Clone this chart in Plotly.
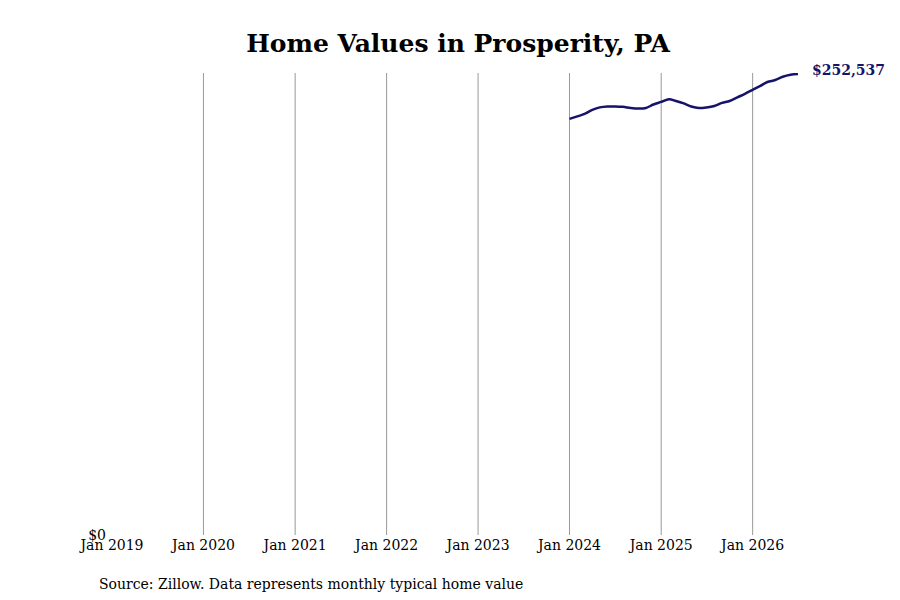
import pandas as pd
import plotly.graph_objects as go

# Monthly typical home value, Jan 2024 - Jul 2026
months = pd.date_range("2024-01-01", "2026-07-01", freq="MS")
home_values = [
    227900, 229300, 230600, 232800, 234200, 234700, 234700, 234500,
    233900, 233600, 233900, 235800, 237200, 238600, 237700, 236400,
    234700, 233900, 234200, 235000, 236700, 237700, 239700, 241600,
    243800, 246000, 248100, 249200, 251000, 252100, 252537,
]

tick_dates = ["2019-01-01", "2020-01-01", "2021-01-01", "2022-01-01",
              "2023-01-01", "2024-01-01", "2025-01-01", "2026-01-01"]
tick_labels = ["Jan 2019", "Jan 2020", "Jan 2021", "Jan 2022",
               "Jan 2023", "Jan 2024", "Jan 2025", "Jan 2026"]

line_color = "#16136b"
serif = "DejaVu Serif"

fig = go.Figure()
fig.add_trace(go.Scatter(
    x=months,
    y=home_values,
    mode="lines",
    line=dict(color=line_color, width=2.5, shape="spline"),
    hoverinfo="skip",
))

# year gridlines (none at the left edge)
for d in tick_dates[1:]:
    fig.add_vline(x=d, line_width=1, line_color="#999999", layer="below")

fig.add_annotation(
    x=months[-1], y=home_values[-1],
    text=f"<b>${home_values[-1]:,}</b>",
    showarrow=False, xanchor="left", xshift=12, yshift=4,
    font=dict(family=serif, size=14, color=line_color),
)

fig.add_annotation(
    x=0, y=-0.085, xref="paper", yref="paper",
    text="Source: Zillow. Data represents monthly typical home value",
    showarrow=False, xanchor="left", yanchor="top", xshift=-15,
    font=dict(family=serif, size=14, color="black"),
)

fig.update_layout(
    width=900, height=600,
    title=dict(text="<b>Home Values in Prosperity, PA</b>", x=0.5, xanchor="center",
               y=0.942, yanchor="middle",
               font=dict(family=serif, size=25, color="black")),
    plot_bgcolor="white", paper_bgcolor="white",
    margin=dict(l=104, r=110, t=65, b=73),
    showlegend=False,
    font=dict(family=serif, size=14, color="black"),
)

fig.update_xaxes(
    range=["2019-01-01", "2026-07-01"],
    tickvals=tick_dates, ticktext=tick_labels,
    showgrid=False, zeroline=False, showline=False, ticks="",
)
fig.update_yaxes(
    range=[0, home_values[-1] * 1.002],
    tickvals=[0], ticktext=["$0"],
    showgrid=False, zeroline=False, showline=False, ticks="",
    ticklabelstandoff=5,
)

fig.write_html("out.html")
